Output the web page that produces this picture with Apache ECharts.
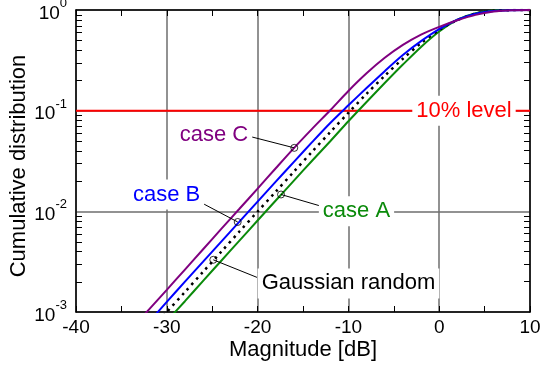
<!DOCTYPE html>
<html>
<head>
<meta charset="utf-8">
<script src="https://cdn.jsdelivr.net/npm/echarts@6/dist/echarts.min.js"></script>
<style>
html,body{margin:0;padding:0;background:#fff;}
#chart{width:540px;height:373px;}
</style>
</head>
<body>
<div id="chart"></div>
<script>
// ---- data ----
const magnitudeDb = [-34,-32,-30,-28,-26,-24,-22,-20,-18,-16,-14,-12,-10,-8,-6,-4,-2,0,2,4,6,8,10];
const gaussianRandom = [0.000398,0.000631,0.001,0.00158,0.00251,0.00397,0.0063,0.00995,0.0157,0.0248,0.0391,0.0612,0.0952,0.147,0.222,0.328,0.468,0.632,0.795,0.919,0.981,0.998,1.0];
const caseA = [0.000324,0.000513,0.000813,0.00128,0.00204,0.00323,0.00512,0.0081,0.0128,0.0202,0.0318,0.0497,0.0785,0.122,0.188,0.287,0.43,0.612,0.80,0.93,0.988,0.999,1.0];
const caseB = [0.0005,0.00079,0.00126,0.002,0.00316,0.005,0.0079,0.0125,0.0197,0.031,0.0487,0.0755,0.113,0.168,0.247,0.357,0.49,0.645,0.80,0.92,0.98,0.997,1.0];
const caseC = [0.00066,0.00105,0.00166,0.00264,0.0042,0.0067,0.0106,0.0168,0.0268,0.0425,0.066,0.101,0.157,0.235,0.335,0.45,0.57,0.68,0.79,0.895,0.965,0.993,1.0];
const levelDb = [-40, 10];
const levelValue = [0.1, 0.1];
const xTickValues = [-40,-30,-20,-10,0,10];
const yMinorTickValues = [0.002,0.003,0.004,0.005,0.006,0.007,0.008,0.009,0.02,0.03,0.04,0.05,0.06,0.07,0.08,0.09,0.2,0.3,0.4,0.5,0.6,0.7,0.8,0.9];
// annotation markers on the curves
const markerPoints = [[-15.96,0.0427],[-22.19,0.00784],[-17.42,0.0147],[-24.88,0.0033]];

// ---- annotation layout (data coordinates) ----
const annotations = [
  {text:'case C', color:'#800080', at:[-24.8,0.0577], lineFrom:[-20.73,0.0551], marker:0},
  {text:'case B', color:'#0000ff', at:[-30.03,0.01468], lineFrom:[-26.12,0.01208], marker:1},
  {text:'case A', color:'#0a8a0a', at:[-9.11,0.01002], lineFrom:[-13.24,0.01141], marker:2},
  {text:'Gaussian random', color:'#000', at:[-9.99,0.001924], lineFrom:[-20.07,0.002208], marker:3},
  {text:'10% level', color:'#ff0000', at:[2.73,0.1]}
];

const FONT = '"Liberation Sans", Arial, sans-serif';
const pairs = (xs, ys) => xs.map((x, i) => [x, ys[i]]);

const chart = echarts.init(document.getElementById('chart'), null, {renderer:'canvas'});

const gridColor = '#6e6e6e';
const tickStyle = {color: '#000', width: 1};
const option = {
  animation: false,
  backgroundColor: '#fff',
  grid: {left: 76, right: 10, top: 10, height: 302, containLabel: false, outerBoundsMode: 'none'},
  xAxis: [{
    type: 'value', min: -40, max: 10, interval: 10, position: 'bottom',
    name: 'Magnitude [dB]', nameLocation: 'middle', nameGap: 27, nameMoveOverlap: false,
    nameTextStyle: {fontFamily: FONT, fontSize: 22, color: '#000'},
    axisLine: {show: true, onZero: false, lineStyle: {color: '#000', width: 1.5}},
    axisTick: {show: true, inside: true, length: 6, lineStyle: tickStyle},
    minorTick: {show: true, splitNumber: 2, length: 6, lineStyle: tickStyle},
    axisLabel: {fontFamily: FONT, fontSize: 19, color: '#000', margin: 6,
      formatter: v => xTickValues.includes(v) ? String(v) : ''},
    splitLine: {show: true, lineStyle: {color: gridColor, width: 1.5}}
  }, {
    type: 'value', min: -40, max: 10, interval: 10, position: 'top',
    axisLine: {show: true, onZero: false, lineStyle: {color: '#000', width: 1.5}},
    axisTick: {show: true, inside: true, length: 6, lineStyle: tickStyle},
    minorTick: {show: true, splitNumber: 2, length: 6, lineStyle: tickStyle},
    axisLabel: {show: false}, splitLine: {show: false}
  }],
  yAxis: [{
    type: 'log', logBase: 10, min: 0.001, max: 1, position: 'left',
    name: 'Cumulative distribution', nameLocation: 'middle', nameGap: 46, nameMoveOverlap: false,
    nameTextStyle: {fontFamily: FONT, fontSize: 22, color: '#000', padding: [0, 10, 0, 0]},
    axisLine: {show: true, onZero: false, lineStyle: {color: '#000', width: 1.5}},
    axisTick: {show: false},
    axisLabel: {
      margin: 9, color: '#000',
      formatter: v => '{b|10}{s|' + Math.round(Math.log10(v)) + '}',
      rich: {
        b: {fontFamily: FONT, fontSize: 19, color: '#000', lineHeight: 26, verticalAlign: 'bottom'},
        s: {fontFamily: FONT, fontSize: 13, color: '#000', lineHeight: 26, verticalAlign: 'top'}
      }
    },
    splitLine: {show: true, lineStyle: {color: gridColor, width: 1.5}}
  }, {
    type: 'log', logBase: 10, min: 0.001, max: 1, position: 'right',
    axisLine: {show: true, onZero: false, lineStyle: {color: '#000', width: 1.5}},
    axisTick: {show: true, inside: true, length: 6, customValues: yMinorTickValues, lineStyle: tickStyle},
    axisLabel: {show: false}, splitLine: {show: false}
  }],
  series: [
    {type: 'line', name: '10% level', data: pairs(levelDb, levelValue), showSymbol: false, silent: true,
      lineStyle: {color: '#ff0000', width: 2}, z: 3},
    {type: 'line', name: 'case A', data: pairs(magnitudeDb, caseA), showSymbol: false, smooth: 0.3, clip: true,
      lineStyle: {color: '#0a8a0a', width: 2}, z: 4},
    {type: 'line', name: 'Gaussian random', data: pairs(magnitudeDb, gaussianRandom), showSymbol: false, smooth: 0.3, clip: true,
      lineStyle: {color: '#000', width: 2.5, type: [2.5, 4.5]}, z: 5},
    {type: 'line', name: 'case B', data: pairs(magnitudeDb, caseB), showSymbol: false, smooth: 0.3, clip: true,
      lineStyle: {color: '#0000ff', width: 2}, z: 6},
    {type: 'line', name: 'case C', data: pairs(magnitudeDb, caseC), showSymbol: false, smooth: 0.3, clip: true,
      lineStyle: {color: '#800080', width: 2}, z: 7},
    {type: 'scatter', data: markerPoints, symbol: 'circle', symbolSize: 7,
      itemStyle: {color: 'rgba(0,0,0,0)', borderColor: '#000', borderWidth: 1}, z: 20}
  ]
};
chart.setOption(option);

const px = p => chart.convertToPixel({gridIndex: 0}, p);
const graphics = [];
// left-side minor ticks (log axis), placed through the axis scale
yMinorTickValues.forEach(v => {
  const p = px([-40, v]);
  graphics.push({type: 'line', z: 80, shape: {x1: p[0], y1: Math.round(p[1]) + 0.5, x2: p[0] + 6, y2: Math.round(p[1]) + 0.5},
    style: {stroke: '#000', lineWidth: 1}});
});
annotations.forEach(a => {
  const c = px(a.at);
  if (a.lineFrom) {
    const s = px(a.lineFrom), e = px(markerPoints[a.marker]);
    graphics.push({type: 'line', z: 90, shape: {x1: s[0], y1: s[1], x2: e[0], y2: e[1]},
      style: {stroke: '#000', lineWidth: 1}});
  }
  graphics.push({type: 'text', z: 100, x: c[0], y: c[1],
    style: {text: a.text, fill: a.color, font: '22px ' + FONT,
      textAlign: 'center', textVerticalAlign: 'middle', align: 'center', verticalAlign: 'middle',
      backgroundColor: '#fff', padding: [4, 4]}});
});
chart.setOption({graphic: graphics});
</script>
</body>
</html>
